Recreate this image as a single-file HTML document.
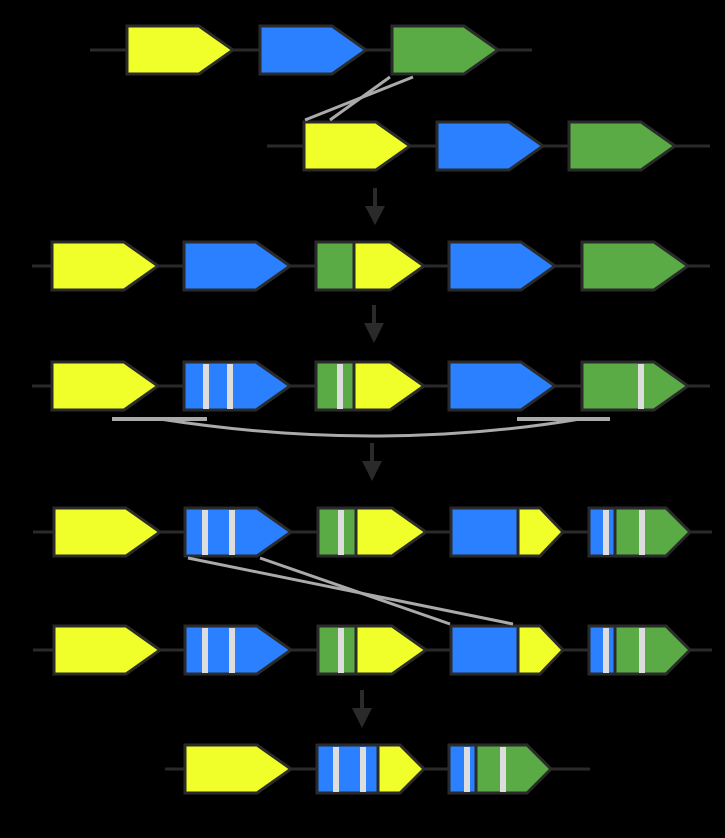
<!DOCTYPE html>
<html><head><meta charset="utf-8"><style>html,body{margin:0;padding:0;background:#000}svg{display:block}</style></head>
<body>
<svg width="725" height="838" viewBox="0 0 725 838" xmlns="http://www.w3.org/2000/svg">
<rect width="725" height="838" fill="#000"/>
<g stroke="#2a2a2a" stroke-width="3">
<line x1="90" y1="50" x2="532" y2="50"/>
<line x1="267" y1="146" x2="710" y2="146"/>
<line x1="32" y1="266" x2="710" y2="266"/>
<line x1="32" y1="386" x2="710" y2="386"/>
<line x1="33" y1="532" x2="712" y2="532"/>
<line x1="33" y1="650" x2="712" y2="650"/>
<line x1="165" y1="769" x2="590" y2="769"/>
</g>
<!-- arrows -->
<g fill="#2a2a2a" stroke="#2a2a2a">
<line x1="375" y1="188" x2="375" y2="210" stroke-width="4"/><polygon points="365,206 385,206 375,225" stroke="none"/>
<line x1="374" y1="305" x2="374" y2="327" stroke-width="4"/><polygon points="364,323 384,323 374,343" stroke="none"/>
<line x1="372" y1="443" x2="372" y2="465" stroke-width="4"/><polygon points="362,461 382,461 372,481" stroke="none"/>
<line x1="362" y1="690" x2="362" y2="712" stroke-width="4"/><polygon points="352,708 372,708 362,728" stroke="none"/>
</g>
<g stroke="#2a2a2a" stroke-width="3" stroke-linejoin="miter">
<!-- row1 -->
<polygon points="127,26 199,26 233,50 199,74 127,74" fill="#f0ff2a"/>
<polygon points="260,26 332,26 366,50 332,74 260,74" fill="#2a80ff"/>
<polygon points="392,26 464,26 498,50 464,74 392,74" fill="#5aaa45"/>
<!-- row2 -->
<polygon points="304,122 376,122 410,146 376,170 304,170" fill="#f0ff2a"/>
<polygon points="437,122 509,122 543,146 509,170 437,170" fill="#2a80ff"/>
<polygon points="569,122 641,122 675,146 641,170 569,170" fill="#5aaa45"/>
<!-- row3 -->
<polygon points="52,242 124,242 158,266 124,290 52,290" fill="#f0ff2a"/>
<polygon points="184,242 256,242 290,266 256,290 184,290" fill="#2a80ff"/>
<rect x="316" y="242" width="38" height="48" fill="#5aaa45"/>
<polygon points="354,242 390,242 424,266 390,290 354,290" fill="#f0ff2a"/>
<polygon points="449,242 521,242 555,266 521,290 449,290" fill="#2a80ff"/>
<polygon points="582,242 654,242 688,266 654,290 582,290" fill="#5aaa45"/>
<!-- row4 -->
<polygon points="52,362 124,362 158,386 124,410 52,410" fill="#f0ff2a"/>
<polygon points="184,362 256,362 290,386 256,410 184,410" fill="#2a80ff"/>
<rect x="316" y="362" width="38" height="48" fill="#5aaa45"/>
<polygon points="354,362 390,362 424,386 390,410 354,410" fill="#f0ff2a"/>
<polygon points="449,362 521,362 555,386 521,410 449,410" fill="#2a80ff"/>
<polygon points="582,362 654,362 688,386 654,410 582,410" fill="#5aaa45"/>
<!-- row5 -->
<polygon points="54,508 126,508 160,532 126,556 54,556" fill="#f0ff2a"/>
<polygon points="185,508 257,508 291,532 257,556 185,556" fill="#2a80ff"/>
<rect x="318" y="508" width="38" height="48" fill="#5aaa45"/>
<polygon points="356,508 392,508 426,532 392,556 356,556" fill="#f0ff2a"/>
<rect x="451" y="508" width="67" height="48" fill="#2a80ff"/>
<polygon points="518,508 540,508 563,532 540,556 518,556" fill="#f0ff2a"/>
<rect x="589" y="508" width="26" height="48" fill="#2a80ff"/>
<polygon points="615,508 666,508 690,532 666,556 615,556" fill="#5aaa45"/>
<!-- row6 -->
<polygon points="54,626 126,626 160,650 126,674 54,674" fill="#f0ff2a"/>
<polygon points="185,626 257,626 291,650 257,674 185,674" fill="#2a80ff"/>
<rect x="318" y="626" width="38" height="48" fill="#5aaa45"/>
<polygon points="356,626 392,626 426,650 392,674 356,674" fill="#f0ff2a"/>
<rect x="451" y="626" width="67" height="48" fill="#2a80ff"/>
<polygon points="518,626 540,626 563,650 540,674 518,674" fill="#f0ff2a"/>
<rect x="589" y="626" width="26" height="48" fill="#2a80ff"/>
<polygon points="615,626 666,626 690,650 666,674 615,674" fill="#5aaa45"/>
<!-- row7 -->
<polygon points="185,745 257,745 291,769 257,793 185,793" fill="#f0ff2a"/>
<rect x="317" y="745" width="61" height="48" fill="#2a80ff"/>
<polygon points="378,745 400,745 424,769 400,793 378,793" fill="#f0ff2a"/>
<rect x="449" y="745" width="27" height="48" fill="#2a80ff"/>
<polygon points="476,745 527,745 551,769 527,793 476,793" fill="#5aaa45"/>
</g>
<!-- stripes -->
<g fill="#dddddd">
<rect x="203" y="364" width="6" height="45"/><rect x="227" y="364" width="6" height="45"/>
<rect x="337" y="364" width="6" height="45"/><rect x="638" y="364" width="6" height="45"/>
<rect x="202" y="510" width="6" height="45"/><rect x="229" y="510" width="6" height="45"/>
<rect x="338" y="510" width="6" height="45"/><rect x="603" y="510" width="6" height="45"/><rect x="639" y="510" width="6" height="45"/>
<rect x="202" y="628" width="6" height="45"/><rect x="229" y="628" width="6" height="45"/>
<rect x="338" y="628" width="6" height="45"/><rect x="603" y="628" width="6" height="45"/><rect x="639" y="628" width="6" height="45"/>
<rect x="333" y="747" width="6" height="45"/><rect x="360" y="747" width="6" height="45"/>
<rect x="464" y="747" width="6" height="45"/><rect x="500" y="747" width="6" height="45"/>
</g>
<!-- grey connectors -->
<g stroke="#aaaaaa" stroke-width="3" fill="none">
<line x1="390" y1="77" x2="330" y2="120"/>
<line x1="413" y1="77" x2="305" y2="120"/>
<line x1="112" y1="419" x2="207" y2="419" stroke-width="4"/>
<line x1="517" y1="419" x2="610" y2="419" stroke-width="4"/>
<path d="M160,419 C230,430 300,436 372,436 C445,436 515,430 580,419"/>
<line x1="188" y1="558" x2="513" y2="624"/>
<line x1="260" y1="558" x2="450" y2="624"/>
</g>
</svg>
</body></html>
